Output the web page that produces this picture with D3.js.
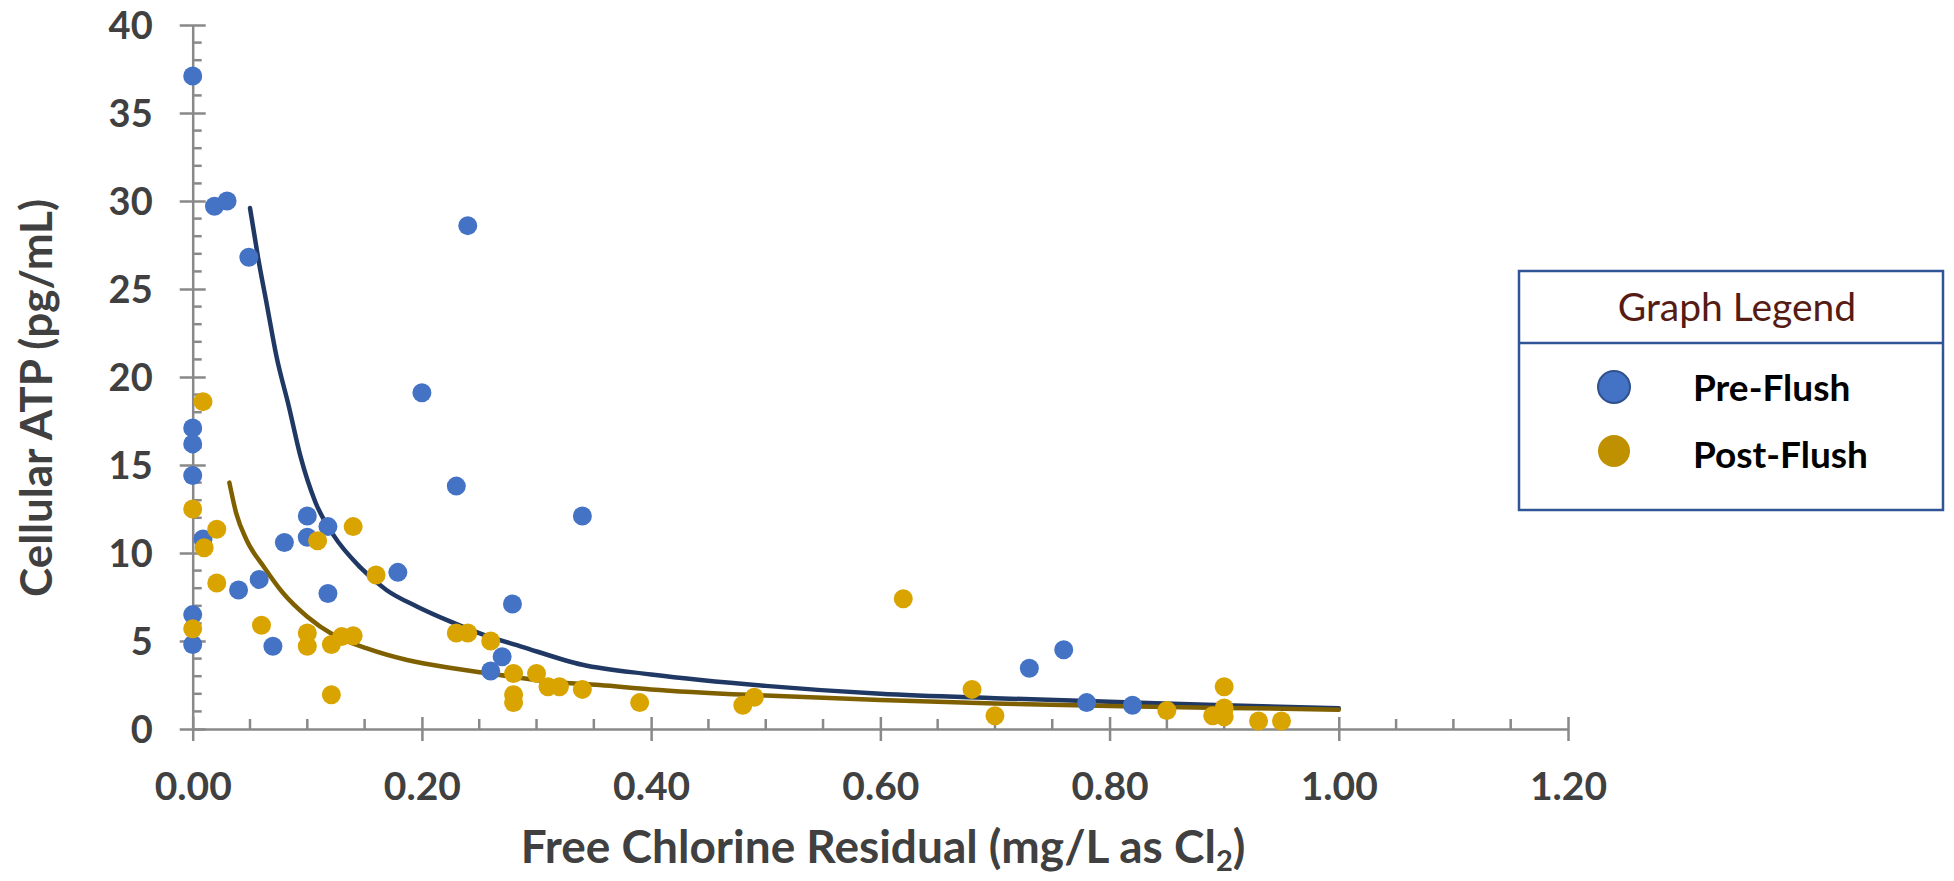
<!DOCTYPE html>
<html>
<head>
<meta charset="utf-8">
<script src="https://cdn.jsdelivr.net/npm/d3@7"></script>
<style>
  body { margin: 0; background: #fff; }
  svg { display: block; font-family: Lato, "Open Sans", sans-serif; }
</style>
</head>
<body>
<div id="chart"></div>
<script>
// Cellular ATP vs free chlorine residual, pre/post flush

const preX = [0, 0.019, 0.03, 0.049, 0.24, 0.20, 0, 0, 0, 0.009, 0, 0, 0.04, 0.058, 0.07, 0.08, 0.10, 0.10, 0.118, 0.118, 0.179, 0.23, 0.34, 0.279, 0.27, 0.26, 0.73, 0.76, 0.78, 0.82];
const preY = [37.1, 29.7, 30.0, 26.8, 28.6, 19.1, 17.1, 16.2, 14.4, 10.8, 6.5, 4.8, 7.9, 8.5, 4.7, 10.6, 12.1, 10.9, 11.5, 7.7, 8.9, 13.8, 12.1, 7.1, 4.1, 3.3, 3.45, 4.5, 1.5, 1.35];

const postX = [0.009, 0, 0.021, 0.01, 0.021, 0, 0.06, 0.10, 0.10, 0.109, 0.121, 0.13, 0.14, 0.14, 0.121, 0.16, 0.23, 0.24, 0.26, 0.28, 0.30, 0.28, 0.28, 0.31, 0.32, 0.34, 0.39, 0.48, 0.49, 0.62, 0.68, 0.70, 0.85, 0.89, 0.90, 0.90, 0.90, 0.93, 0.95];
const postY = [18.6, 12.5, 11.35, 10.3, 8.3, 5.7, 5.9, 5.45, 4.7, 10.7, 4.8, 5.25, 5.3, 11.5, 1.95, 8.75, 5.45, 5.45, 5.0, 3.15, 3.15, 1.95, 1.5, 2.4, 2.4, 2.25, 1.5, 1.35, 1.8, 7.4, 2.25, 0.75, 1.05, 0.75, 2.4, 1.2, 0.7, 0.45, 0.45];

// trendlines
const preTrendX = [0.05, 0.057, 0.065, 0.073, 0.084, 0.094, 0.107, 0.123, 0.146, 0.169, 0.196, 0.225, 0.254, 0.286, 0.34, 0.40, 0.50, 0.60, 0.70, 0.80, 0.90, 1.00];
const preTrendY = [29.6, 26.8, 24.0, 21.2, 18.3, 15.5, 12.9, 11.0, 9.2, 7.9, 6.95, 6.1, 5.35, 4.7, 3.65, 3.1, 2.45, 2.0, 1.75, 1.55, 1.35, 1.18];
const postTrendX = [0.032, 0.038, 0.047, 0.062, 0.079, 0.10, 0.123, 0.152, 0.187, 0.227, 0.268, 0.312, 0.355, 0.40, 0.50, 0.60, 0.70, 0.80, 0.90, 1.00];
const postTrendY = [14.0, 12.25, 10.74, 9.22, 7.71, 6.38, 5.34, 4.58, 3.92, 3.45, 3.07, 2.69, 2.5, 2.25, 1.9, 1.65, 1.45, 1.31, 1.2, 1.1];

const xTicks = [0, 0.2, 0.4, 0.6, 0.8, 1.0, 1.2];
const yTicks = [0, 5, 10, 15, 20, 25, 30, 35, 40];
const legendTitle = "Graph Legend";
const seriesNames = ["Pre-Flush", "Post-Flush"];

const width = 1954, height = 881;
const axisColor = "#898989", labelColor = "#404040";

const svg = d3.select("#chart").append("svg")
    .attr("width", width)
    .attr("height", height);

const x = d3.scaleLinear().domain([0, 1.2]).range([192.7, 1568]);
const y = d3.scaleLinear().domain([0, 40]).range([729, 25]);

// minor ticks (inside the plot)
const xMinor = d3.range(0, 1.2001, 0.05).filter(v => Math.abs(v / 0.2 - Math.round(v / 0.2)) > 1e-6);
const yMinor = d3.range(0, 40.001, 1).filter(v => v % 5 !== 0);

svg.append("g").selectAll("line").data(yMinor).join("line")
    .attr("x1", x(0)).attr("x2", x(0) + 9)
    .attr("y1", d => y(d)).attr("y2", d => y(d))
    .attr("stroke", axisColor).attr("stroke-width", 2.5);

svg.append("g").selectAll("line").data(xMinor).join("line")
    .attr("x1", d => x(d)).attr("x2", d => x(d))
    .attr("y1", y(0)).attr("y2", y(0) - 10)
    .attr("stroke", axisColor).attr("stroke-width", 2.5);

// Y axis
const gy = svg.append("g")
    .attr("transform", `translate(${x(0)},0)`)
    .call(d3.axisLeft(y).tickValues(yTicks).tickFormat(d3.format("d")).tickSize(13).tickSizeOuter(0).tickPadding(27));
gy.select(".domain").attr("stroke", axisColor).attr("stroke-width", 2.5);
gy.selectAll(".tick line").attr("x1", 13).attr("stroke", axisColor).attr("stroke-width", 2.5);
gy.selectAll(".tick text")
    .attr("fill", labelColor).attr("dy", "0.36em")
    .style("font-family", "Lato, 'Open Sans', sans-serif")
    .style("font-size", "38px").style("font-weight", "bold");

// X axis
const gx = svg.append("g")
    .attr("transform", `translate(0,${y(0)})`)
    .call(d3.axisBottom(x).tickValues(xTicks).tickFormat(d3.format(".2f")).tickSize(12).tickSizeOuter(0));
gx.select(".domain").attr("stroke", axisColor).attr("stroke-width", 2.5);
gx.selectAll(".tick line").attr("y1", -12).attr("stroke", axisColor).attr("stroke-width", 2.5);
gx.selectAll(".tick text")
    .attr("fill", labelColor).attr("y", 57).attr("dy", "0.36em")
    .style("font-family", "Lato, 'Open Sans', sans-serif")
    .style("font-size", "39px").style("font-weight", "bold");

// trendlines
const line = d3.line().x(d => x(d[0])).y(d => y(d[1])).curve(d3.curveMonotoneX);

svg.append("path")
    .datum(d3.zip(preTrendX, preTrendY))
    .attr("d", line)
    .attr("fill", "none")
    .attr("stroke", "#203864")
    .attr("stroke-width", 4.5)
    .attr("stroke-linecap", "round");

svg.append("path")
    .datum(d3.zip(postTrendX, postTrendY))
    .attr("d", line)
    .attr("fill", "none")
    .attr("stroke", "#7F6000")
    .attr("stroke-width", 4.5)
    .attr("stroke-linecap", "round");

// points
svg.append("g").selectAll("circle")
    .data(d3.zip(preX, preY))
    .join("circle")
    .attr("cx", d => x(d[0]))
    .attr("cy", d => y(d[1]))
    .attr("r", 9.5)
    .attr("fill", "#4472C4");

svg.append("g").selectAll("circle")
    .data(d3.zip(postX, postY))
    .join("circle")
    .attr("cx", d => x(d[0]))
    .attr("cy", d => y(d[1]))
    .attr("r", 9.5)
    .attr("fill", "#D9A400");

// axis titles
svg.append("text")
    .attr("transform", "translate(52,398) rotate(-90)")
    .attr("text-anchor", "middle")
    .attr("fill", labelColor)
    .style("font-size", "44px").style("font-weight", "bold")
    .text("Cellular ATP (pg/mL)");

const xt = svg.append("text")
    .attr("x", 883).attr("y", 863)
    .attr("text-anchor", "middle")
    .attr("fill", labelColor)
    .style("font-size", "46px").style("font-weight", "bold");
xt.append("tspan").text("Free Chlorine Residual (mg/L as Cl");
xt.append("tspan").attr("dy", 8).style("font-size", "29px").text("2");
xt.append("tspan").attr("dy", -8).text(")");

// legend
const lg = svg.append("g");
lg.append("rect")
    .attr("x", 1519).attr("y", 271).attr("width", 424).attr("height", 239)
    .attr("fill", "#fff").attr("stroke", "#2F5597").attr("stroke-width", 2.5);
lg.append("line")
    .attr("x1", 1519).attr("x2", 1943).attr("y1", 343).attr("y2", 343)
    .attr("stroke", "#2F5597").attr("stroke-width", 2.5);
lg.append("text")
    .attr("x", 1737).attr("y", 321)
    .attr("text-anchor", "middle")
    .attr("fill", "#561C14")
    .style("font-size", "39px")
    .text(legendTitle);

const markerFill = ["#4472C4", "#BF9000"];
const markerStroke = ["#2F528F", "none"];
const rowY = [387, 451];
seriesNames.forEach((name, i) => {
    lg.append("circle")
        .attr("cx", 1614).attr("cy", rowY[i]).attr("r", 16)
        .attr("fill", markerFill[i])
        .attr("stroke", markerStroke[i]).attr("stroke-width", 2);
    lg.append("text")
        .attr("x", 1693).attr("y", rowY[i] + 14 + i * 3)
        .attr("fill", "#000")
        .style("font-size", "37px").style("font-weight", "bold")
        .text(name);
});
</script>
</body>
</html>
